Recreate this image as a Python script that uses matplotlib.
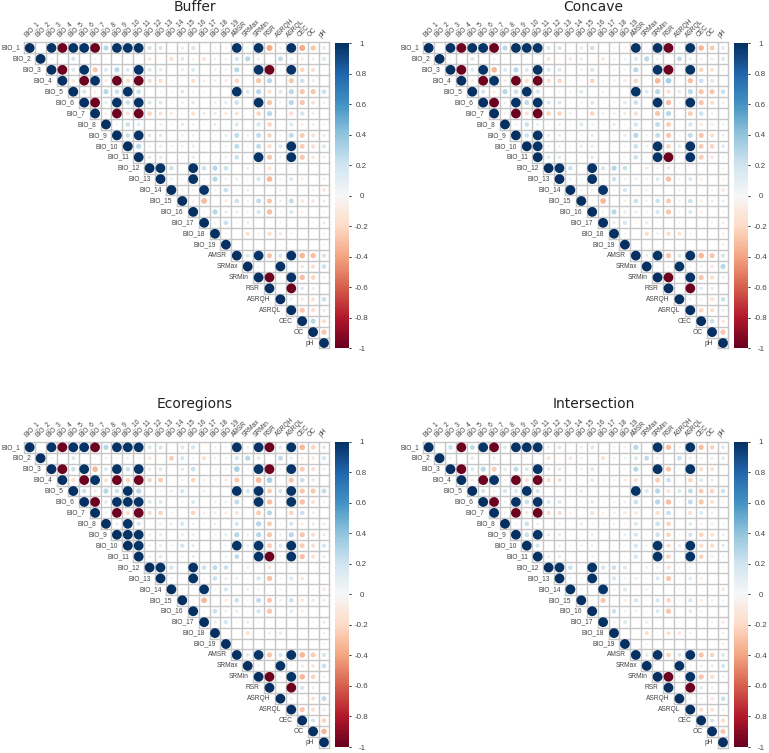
import numpy as np
import matplotlib
matplotlib.use("Agg")
import matplotlib.pyplot as plt

# ********** Data: upper triangle of each correlation matrix, row by row ******

variables = ["BIO_%d" % i for i in range(1, 20)] + ["AMSR", "SRMax", "SRMin", "RSR", "ASRQH", "ASRQL", "CEC", "OC", "pH"]
colorbar_ticks = [-1, -0.8, -0.6, -0.4, -0.2, 0, 0.2, 0.4, 0.6, 0.8, 1]
panel_names = ["Buffer", "Concave", "Ecoregions", "Intersection"]

buffer_rows = [
    [1,0,.98,-.98,.98,.98,-.98,.2,.98,.98,.98,.12,.12,.01,.06,.12,0,.03,.03,.98,.04,.98,-.3,.05,.98,-.3,-.2,.08],
    [1,.03,0,.12,0,.03,.02,0,.02,0,-.08,-.02,-.12,.1,-.04,-.1,.04,.04,.12,.2,.05,0,.18,.06,-.06,-.06,.1],
    [1,-.98,.1,.98,-.2,.1,.2,.1,.98,.1,.08,0,.06,.1,0,.03,.03,.2,.01,.98,-.98,.02,.98,-.15,-.12,.02],
    [1,-.08,-.98,.98,-.06,-.98,-.12,-.98,-.12,-.12,-.03,-.02,-.12,-.05,-.04,-.06,-.15,0,-.2,.2,0,-.2,.15,.06,0],
    [1,.12,-.05,.2,.15,.98,.15,0,.03,.02,.1,.03,-.03,0,0,.98,.1,.2,-.12,.1,.2,-.2,-.2,.15],
    [1,-.98,.06,.98,.15,.98,.1,.1,.02,.04,.08,.02,.04,.06,.15,0,.98,-.2,.03,.2,-.2,-.1,.04],
    [1,-.04,-.98,-.1,-.98,-.15,-.1,-.06,-.02,-.1,-.06,-.06,-.06,-.1,0,-.15,.2,0,-.12,.12,.05,0],
    [1,.03,.15,.08,.02,.05,-.03,.08,.04,.02,.06,.02,.1,0,.12,-.15,.02,.1,-.05,-.05,.03],
    [1,.15,.98,.08,.08,.01,.04,.04,.02,.02,.06,.18,.04,.18,-.15,.03,.18,-.18,-.1,.06],
    [1,.2,.03,.06,.03,.05,.06,.01,.02,.03,.18,.03,.18,-.12,.1,.98,-.18,-.12,.1],
    [1,.08,.08,.01,.02,.06,.02,.02,.04,.15,.02,.98,-.2,.04,.98,-.2,-.08,.04],
    [1,.98,.15,0,.98,.15,.2,.15,0,-.05,.03,-.1,-.02,.02,0,0,-.03],
    [1,.05,.02,.98,.03,.2,.05,.05,-.03,.12,-.25,-.03,.1,-.04,0,-.04],
    [1,.04,.03,.98,.03,.15,-.02,-.05,0,0,-.03,-.01,-.01,-.03,-.08],
    [1,-.04,-.25,0,-.06,.15,.03,.18,-.2,.04,.18,-.08,-.08,.06],
    [1,.03,.2,.06,.05,-.03,.12,-.22,-.03,.1,-.04,0,-.02],
    [1,.03,.15,-.02,-.05,0,0,-.02,-.01,0,.02,-.06],
    [1,.02,0,-.1,.03,-.12,-.08,-.03,0,0,-.03],
    [1,0,-.02,0,0,.02,0,0,0,-.03],
    [1,.1,.98,-.2,.12,.98,-.25,-.22,.12],
    [1,-.03,.01,.98,.02,-.08,-.12,.15],
    [1,-.98,.02,.98,-.22,-.15,.04],
    [1,0,-.98,.08,.05,0],
    [1,.05,-.06,-.1,.15],
    [1,-.2,-.12,.06],
    [1,.2,-.12],
    [1,-.2],
    [1],
]

concave_rows = [
    [1,0,.98,-.98,.98,.98,-.98,.2,.98,.98,.98,.1,.12,.01,.06,.15,0,.03,.03,.98,.02,.98,-.98,.04,.98,-.25,-.18,.08],
    [1,.02,0,.1,0,.04,.02,0,.02,0,-.1,-.03,-.08,.06,-.02,-.08,.04,.04,.1,.2,.04,0,.18,.06,-.05,-.06,.1],
    [1,-.98,.1,.98,-.25,.1,.2,.1,.98,.1,.1,0,.04,.12,0,.03,.03,.2,.01,.98,-.98,.02,.98,-.15,-.1,.03],
    [1,-.06,-.98,.98,-.06,-.98,-.12,-.98,-.12,-.15,-.02,-.02,-.15,-.04,-.04,-.06,-.15,0,-.25,.25,0,-.22,.15,.1,0],
    [1,.12,-.05,.2,.15,.98,.12,0,.03,-.03,.1,.02,-.04,0,0,.98,.1,.2,-.12,.08,.2,-.2,-.2,.15],
    [1,-.98,.05,.98,.18,.98,.1,.1,.02,.03,.1,.02,.03,.08,.15,0,.98,-.22,.02,.98,-.2,-.12,.04],
    [1,-.04,-.98,-.1,-.98,-.15,-.15,-.05,0,-.15,-.05,-.05,-.06,-.12,0,-.2,.2,0,-.18,.15,.04,0],
    [1,.04,.15,.05,.02,.05,-.02,.1,.04,.02,.06,.02,.12,0,.18,-.18,.02,.12,-.06,-.05,.03],
    [1,.15,.98,.06,.06,.01,.02,.06,.01,.02,.06,.2,.03,.18,-.2,.02,.18,-.2,-.12,.05],
    [1,.98,.04,.04,.02,.06,.06,.01,.02,.02,.15,.04,.98,-.15,.08,.98,-.18,-.15,.08],
    [1,.08,.08,.02,.02,.08,.01,.02,.02,.15,.02,.98,-.98,.02,.98,-.18,-.08,.03],
    [1,.98,.15,0,.98,.12,.2,.15,0,-.06,.03,-.08,-.03,.01,0,0,-.04],
    [1,.04,.02,.98,.03,.15,.05,.05,-.03,.1,-.22,-.03,.1,-.04,0,-.03],
    [1,.03,-.03,.98,.03,.12,-.02,-.04,0,0,-.03,-.01,0,-.02,-.08],
    [1,-.02,-.25,0,-.04,.15,.03,.15,-.18,.03,.15,-.05,-.06,.05],
    [1,.03,.2,.06,.05,-.03,.12,-.2,-.02,.1,-.03,0,-.02],
    [1,.06,.12,-.02,-.06,.01,0,-.02,0,0,.02,-.05],
    [1,.03,0,-.12,.04,-.12,-.1,-.03,0,0,-.04],
    [1,0,-.02,.02,0,-.02,0,0,0,-.04],
    [1,.06,.98,-.2,.1,.98,-.25,-.2,.12],
    [1,-.01,.03,.98,.03,-.05,-.08,.2],
    [1,-.98,.03,.98,-.2,-.12,.05],
    [1,0,-.98,.08,.06,0],
    [1,.04,-.03,-.1,.15],
    [1,-.15,-.12,.05],
    [1,.15,-.08],
    [1,-.2],
    [1],
]

ecoregions_rows = [
    [1,0,.98,-.98,.98,.98,-.98,.2,.98,.98,.98,.1,.12,0,.1,.12,0,.03,.03,.98,.04,.98,-.98,.08,.98,-.25,-.15,.08],
    [1,.03,0,.1,0,.02,-.04,.02,.04,.02,-.08,-.02,-.18,.12,-.03,-.12,.04,.03,.12,.2,.08,0,.18,.06,-.06,-.08,.12],
    [1,-.98,.15,.98,-.25,.1,.98,.15,.98,.06,.1,0,.08,.15,0,.02,.03,.25,.02,.98,-.98,.03,.98,-.18,-.12,.04],
    [1,-.12,-.98,.98,-.1,-.98,-.15,-.98,-.15,-.18,-.02,-.04,-.15,-.05,-.03,-.06,-.2,0,-.25,.25,0,-.2,.15,.08,0],
    [1,.15,-.06,.2,.15,.98,.2,0,.03,-.06,.12,-.01,-.05,0,0,.98,.12,.98,-.18,.12,.98,-.2,-.2,.18],
    [1,-.98,.08,.98,.98,.98,.1,.1,.01,.03,.1,.01,.03,.04,.18,0,.98,-.22,.02,.98,-.22,-.1,.04],
    [1,-.04,-.98,-.12,-.98,-.12,-.15,-.03,0,-.15,-.05,-.05,-.05,-.1,0,-.18,.2,0,-.15,.15,.04,0],
    [1,.05,.98,.12,.01,.05,-.05,.12,.04,.02,.05,.01,.12,0,.2,-.18,.02,.12,-.05,-.06,.05],
    [1,.98,.98,.05,.06,.01,.05,.05,.01,.02,.06,.2,.04,.2,-.2,.04,.2,-.2,-.12,.06],
    [1,.98,.03,.06,.03,.12,.06,.01,0,.03,.98,.06,.98,-.18,.1,.98,-.18,-.12,.12],
    [1,.05,.08,.01,.03,.06,.01,.01,.04,.18,.03,.98,-.98,.03,.98,-.22,-.1,.06],
    [1,.98,.12,0,.98,.15,.18,.15,0,-.05,.03,-.08,-.02,.02,0,0,-.04],
    [1,.04,.02,.98,.03,.15,.06,.05,-.03,.12,-.22,-.03,.1,-.08,0,0],
    [1,.03,.02,.98,.03,.12,-.02,-.05,-.04,0,-.03,-.02,0,-.02,-.08],
    [1,-.02,-.25,0,-.05,.15,.02,.18,-.2,.04,.15,-.08,-.08,.06],
    [1,.02,.15,.05,.06,-.02,.12,-.2,-.02,.08,-.05,0,0],
    [1,.05,.12,-.02,-.06,-.02,0,-.01,0,0,.02,-.06],
    [1,0,0,-.1,.01,-.05,-.08,0,0,0,-.03],
    [1,0,-.02,0,0,0,0,0,0,-.03],
    [1,.08,.98,-.2,.12,.98,-.25,-.18,.12],
    [1,.03,0,.98,.03,-.06,-.08,.15],
    [1,-.98,.03,.98,-.25,-.15,.04],
    [1,0,-.98,.12,.05,-.01],
    [1,.05,-.04,-.1,.18],
    [1,-.2,-.12,.06],
    [1,.12,-.15],
    [1,-.25],
    [1],
]

intersection_rows = [
    [1,0,.15,-.98,.18,.98,-.98,.1,.98,.98,.98,.06,.1,0,.04,.1,0,.03,.03,.2,0,.98,-.22,.03,.98,-.22,-.15,.08],
    [1,.03,0,.08,0,.06,0,0,.02,0,-.1,-.02,-.08,.05,-.02,-.12,.04,.04,.1,.18,.04,0,.15,.05,-.04,-.06,.08],
    [1,-.98,.1,.2,-.18,.08,.18,.1,.98,.06,.08,0,.04,.1,0,.02,.02,.2,0,.98,-.2,.02,.98,-.12,-.1,.02],
    [1,-.06,-.98,.98,-.04,-.98,-.1,-.98,-.12,-.12,-.03,-.01,-.1,-.04,-.03,-.06,-.12,0,-.18,.15,0,-.15,.1,.06,-.01],
    [1,.12,-.04,.12,.1,.98,.12,0,.02,-.02,.06,.02,-.02,0,0,.98,.1,.2,-.1,.1,.18,-.18,-.15,.15],
    [1,-.98,.04,.98,.15,.98,.1,.1,.01,.02,.08,.02,.03,.04,.15,.01,.2,-.22,.02,.18,-.2,-.1,.03],
    [1,-.04,-.98,-.08,-.98,-.12,-.12,-.04,0,-.1,-.04,-.04,-.06,-.08,0,-.12,.15,0,-.12,.1,.04,0],
    [1,.03,.15,.04,.01,.04,-.01,.06,.03,-.02,.04,-.02,.1,0,.15,-.15,.01,.08,-.04,-.05,.02],
    [1,.15,.98,.06,.06,.01,.02,.05,.01,.01,.04,.12,.02,.15,-.15,.02,.12,-.15,-.1,.04],
    [1,.12,.02,.04,.02,.03,.04,.01,.01,.02,.12,.03,.98,-.12,.06,.98,-.12,-.12,.08],
    [1,.05,.06,.01,.02,.04,.01,.01,.02,.12,.01,.98,-.15,.02,.98,-.15,-.05,.03],
    [1,.98,.15,0,.98,.12,.15,.1,0,-.04,.04,-.1,-.02,.03,0,0,-.03],
    [1,.04,.02,.98,.02,.12,.04,.05,-.02,.1,-.2,-.02,.08,-.05,0,0],
    [1,.03,.02,.98,.03,.1,-.02,-.03,0,0,-.02,-.02,0,-.03,-.08],
    [1,-.02,-.2,-.01,-.05,.12,.01,.12,-.15,.02,.12,-.05,-.04,.04],
    [1,.02,.15,.04,.04,-.02,.1,-.2,-.01,.08,-.03,0,-.01],
    [1,.04,.1,-.01,-.05,0,0,-.01,0,0,.02,-.06],
    [1,0,0,-.1,.01,-.1,-.08,-.03,0,0,-.03],
    [1,0,-.02,0,0,-.01,0,0,0,-.03],
    [1,.08,.98,-.15,.1,.98,-.2,-.15,.1],
    [1,-.01,.01,.98,.02,-.05,-.06,.12],
    [1,-.98,.03,.98,-.2,-.12,.04],
    [1,0,-.98,.08,.04,0],
    [1,.04,-.04,-.08,.15],
    [1,-.12,-.1,.05],
    [1,.12,-.12],
    [1,-.2],
    [1],
]

panel_rows = [buffer_rows, concave_rows, ecoregions_rows, intersection_rows]

# ********** Figure layout, everything in pixels of the 769x753 picture *******

W, H = 769, 753
DPI = 100
cell_pt = 10.9 * 72 / DPI
text_color = "#444444"

plt.rcParams["font.family"] = ["Liberation Sans", "DejaVu Sans"]

fig = plt.figure(figsize=(W / DPI, H / DPI), dpi=DPI)

def add_axes_px(left, top, width, height):
    return fig.add_axes([left / W, 1 - (top + height) / H, width / W, height / H])

panel_left = [24.25, 423.25, 24.25, 423.25]
panel_top = [42.5, 42.5, 441.85, 441.85]
bar_left = [335.3, 734.3, 335.3, 734.3]
bar_top = [43, 43, 441.7, 441.7]
title_x = [194.5, 593.5, 194.5, 593.5]
title_y = [11, 11, 407.7, 407.7]

n = len(variables)

for p in range(4):
    ax = add_axes_px(panel_left[p], panel_top[p], 305.2, 306)
    ax.set_xlim(0.5, n + 0.5)
    ax.set_ylim(n + 0.5, 0.5)
    ax.axis("off")

    # staircase grid of the upper triangle
    for k in range(n + 1):
        ax.plot([k + 0.5, k + 0.5], [0.5, min(k + 1, n) + 0.5], color="#c6c6c6", lw=1.0, zorder=1, clip_on=False)
        ax.plot([max(k, 1) - 0.5, n + 0.5], [k + 0.5, k + 0.5], color="#c6c6c6", lw=1.0, zorder=1, clip_on=False)

    xs, ys, vals = [], [], []
    for r, row in enumerate(panel_rows[p]):
        assert len(row) == n - r, (p, r, len(row))
        for c, v in enumerate(row):
            xs.append(r + c + 1)
            ys.append(r + 1)
            vals.append(v)
    vals = np.array(vals, dtype=float)
    # the faint circles read low off the blurry picture, lift them a little
    vals = np.sign(vals) * np.abs(vals) ** 0.8
    sizes = (0.9 * np.sqrt(np.abs(vals)) * cell_pt) ** 2
    points = ax.scatter(xs, ys, s=sizes, c=vals, cmap="RdBu", vmin=-1, vmax=1, linewidths=0, zorder=2, clip_on=False)

    for i, name in enumerate(variables):
        ax.text(i + 0.1, i + 1, name, ha="right", va="center", fontsize=4.8, color=text_color)
        ax.text(i + 0.85, 0.15, name, ha="left", va="bottom", rotation=45, rotation_mode="anchor", fontsize=4.8, color=text_color)

    fig.text(title_x[p] / W, 1 - title_y[p] / H, panel_names[p], ha="center", va="baseline",
             fontsize=10, family="DejaVu Sans", color="#222222")

    # colour key
    cax = add_axes_px(bar_left[p], bar_top[p], 13.7, 305.3)
    cbar = fig.colorbar(points, cax=cax, ticks=colorbar_ticks)
    cbar.outline.set_visible(False)
    cbar.set_ticklabels(["-1", "-0.8", "-0.6", "-0.4", "-0.2", "0", "0.2", "0.4", "0.6", "0.8", "1"])
    cax.tick_params(length=1.6, width=0.6, pad=7.6, labelsize=5.8, labelcolor=text_color)
    for label in cax.get_yticklabels():
        label.set_ha("center")

fig.savefig("out.png", dpi=DPI)
